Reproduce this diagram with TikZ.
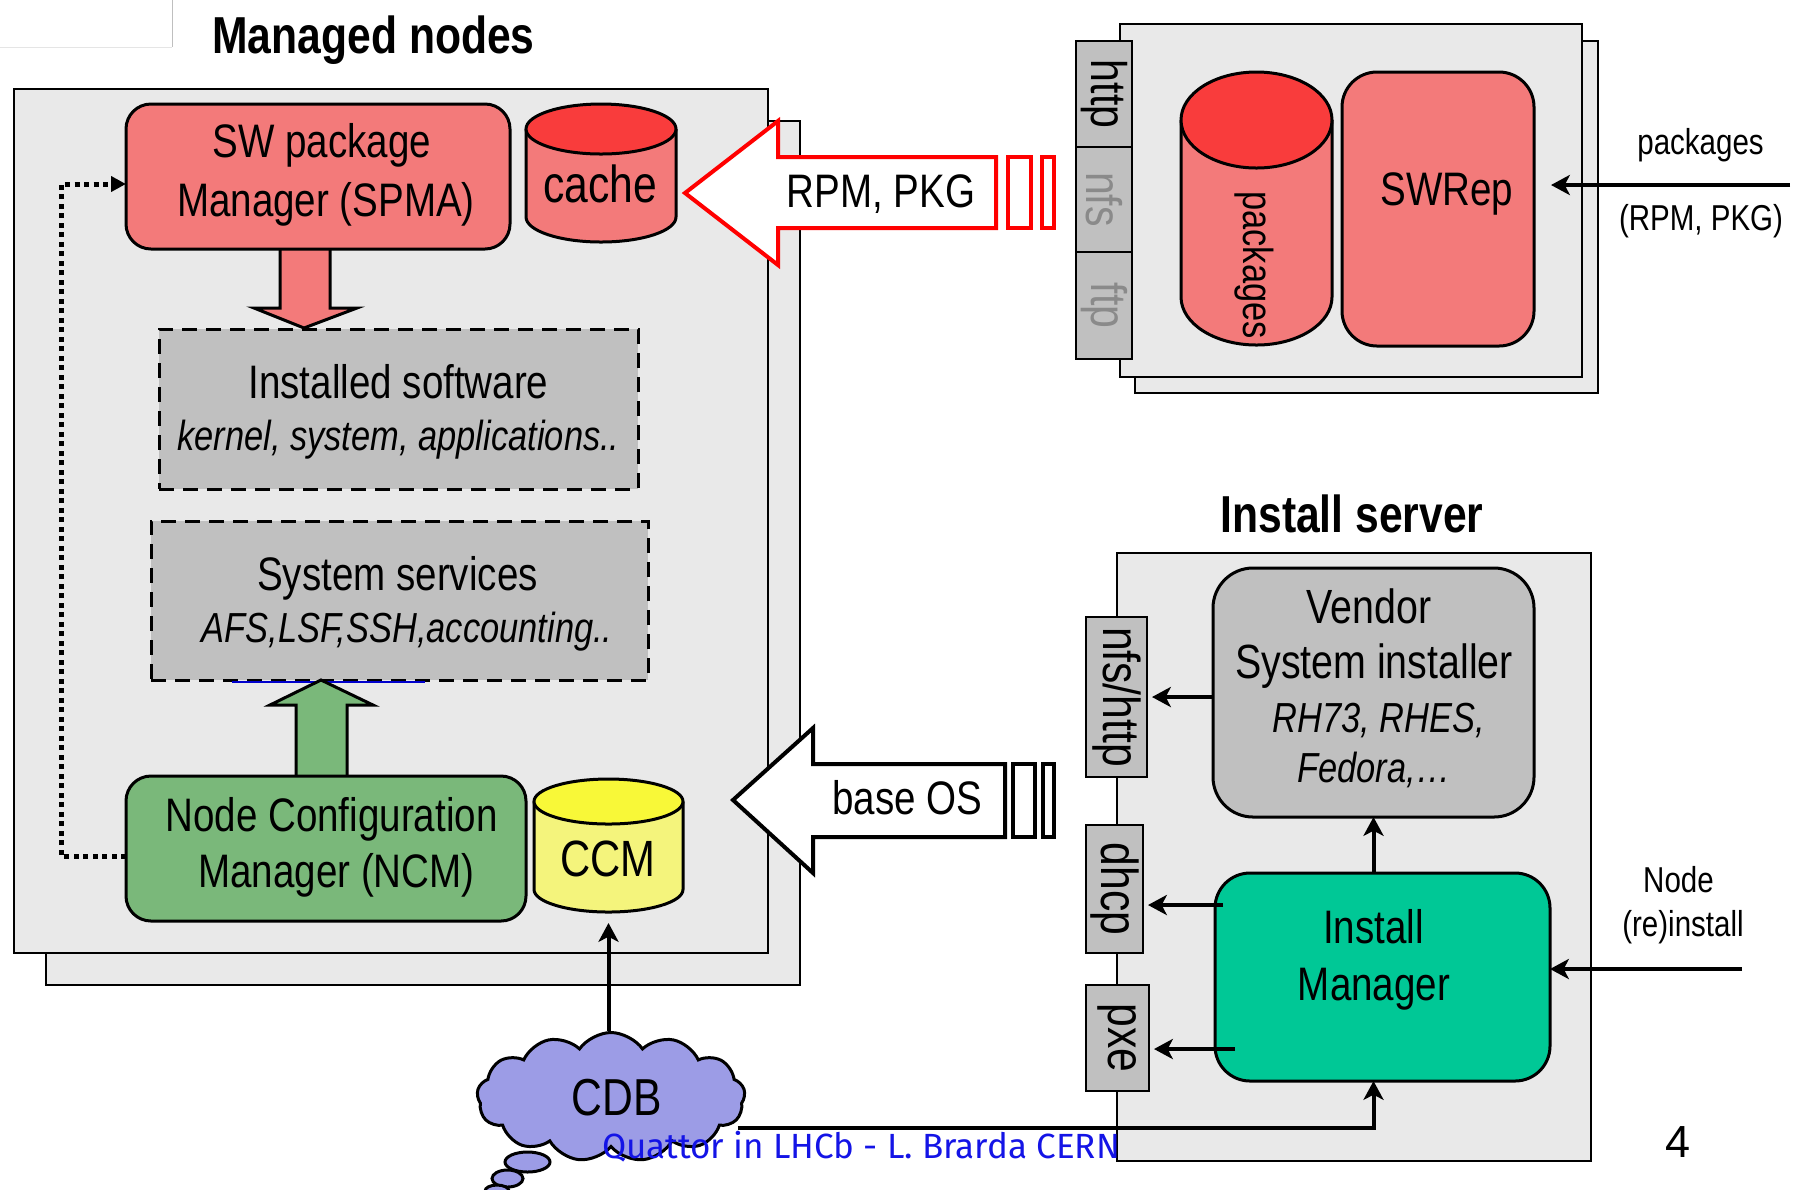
\documentclass[tikz,border=0pt]{standalone}
\usepackage{fontspec}
\usetikzlibrary{shapes.symbols,arrows.meta}
\newfontfamily\nar{Liberation Sans}[FakeStretch=0.82]
\newfontfamily\plainsans{Liberation Sans}
\newfontfamily\footfont{Fira Sans}
\newcommand\fsz[1]{\fontsize{\fpeval{#1*0.4}pt}{\fpeval{#1*0.48}pt}\selectfont}
\definecolor{panel}{HTML}{E9E9E9}
\definecolor{softgray}{HTML}{C0C0C0}
\definecolor{salmon}{HTML}{F37A7A}
\definecolor{redtop}{HTML}{F93C3C}
\definecolor{ncmgreen}{HTML}{7AB87A}
\definecolor{ytop}{HTML}{F8F838}
\definecolor{ybody}{HTML}{F4F47C}
\definecolor{cloudc}{HTML}{9C9CE6}
\definecolor{imgreen}{HTML}{00C896}
\definecolor{tabtext}{HTML}{8A8A8A}
\definecolor{footblue}{HTML}{1414E6}
\begin{document}
\begin{tikzpicture}[x=0.4pt,y=-0.4pt,
  wh/.style 2 args={minimum width=#1*0.4pt, minimum height=#2*0.4pt},
  panelbox/.style={draw, line width=0.7pt, fill=panel, inner sep=0, outer sep=0},
  rbox/.style={draw, line width=1.2pt, inner sep=0, outer sep=0},
  dbox/.style={draw, line width=1.2pt, dash pattern=on 6pt off 3.6pt, fill=softgray, inner sep=0, outer sep=0},
  tabbox/.style={draw, line width=0.8pt, fill=softgray, inner sep=0, outer sep=0, rotate=-90},
  lbl/.style={inner sep=0, outer sep=0, anchor=base},
  cyl/.style={draw, line width=1.2pt},
  arr/.style={line width=1.6pt, -{Stealth[length=7.5pt,width=8pt,inset=2pt]}},
  blockarrow/.style={draw, line width=1.2pt, line join=miter},
  outarrow/.style={draw, fill=white, line width=1.6pt, line join=miter},
]
\useasboundingbox (0,0) rectangle (1797,1189);
% top-left remnant
\draw[black!25, line width=0.4pt] (172,0) -- (172,47);
\draw[black!10, line width=0.4pt] (0,47) -- (172,47);

% ---------- Managed nodes ----------
\node[lbl, font=\nar\bfseries\fsz{52}] (tmn) at (373.5,53) {Managed nodes};
\node[panelbox, wh={754}{864}] (mback) at (423,553) {};
\node[panelbox, wh={754}{864}] (mfront) at (391,521) {};

% SPMA down arrow
\filldraw[blockarrow, fill=salmon] (280,249) -- (280,308) -- (254,308) -- (304,328) -- (357,308) -- (330,308) -- (330,249);
\node[rbox, fill=salmon, rounded corners=10pt, wh={384}{145}] (spma) at (318,176.5) {};
\node[lbl, font=\nar\fsz{47}] at (322,157) {SW package};
\node[lbl, font=\nar\fsz{47}] at (326,216) {Manager (SPMA)};

% cache cylinder
\filldraw[cyl, fill=salmon] (526,129) -- (526,217) arc[start angle=180,end angle=0,x radius=75,y radius=25] -- (676,129);
\filldraw[cyl, fill=redtop] (601,129) ellipse[x radius=75, y radius=25];
\node[inner sep=0, outer sep=0, wh={150}{138}] (cache) at (601,173) {};
\node[lbl, font=\nar\fsz{52}] at (600.5,202) {cache};

% installed software
\node[dbox, wh={479}{160}] (inst) at (398.5,409) {};
\node[lbl, font=\nar\fsz{47}] at (398.5,398) {Installed software};
\node[lbl, font=\nar\itshape\fsz{42}] at (398.5,450) {kernel, system, applications..};

% system services
\node[dbox, wh={497}{159}] (sys) at (399.5,600.5) {};
\draw[blue!80!black, line width=0.8pt] (232,682) -- (425,682);
\node[lbl, font=\nar\fsz{47}] at (397.5,590) {System services};
\node[lbl, font=\nar\itshape\fsz{42}] at (407,642) {AFS,LSF,SSH,accounting..};

% green up arrow
\filldraw[blockarrow, fill=ncmgreen] (296,776) -- (296,705) -- (270,705) -- (321,680) -- (373,705) -- (347,705) -- (347,776);
% NCM
\node[rbox, fill=ncmgreen, rounded corners=10pt, wh={400}{145}] (ncm) at (326,848.5) {};
\node[lbl, font=\nar\fsz{47}] at (331.5,831) {Node Configuration};
\node[lbl, font=\nar\fsz{47}] at (336.5,887) {Manager (NCM)};

% CCM cylinder
\filldraw[cyl, fill=ybody] (534,801.5) -- (534,889.5) arc[start angle=180,end angle=0,x radius=74.5,y radius=22.5] -- (683,801.5);
\filldraw[cyl, fill=ytop] (608.5,801.5) ellipse[x radius=74.5, y radius=22.5];
\node[inner sep=0, outer sep=0, wh={149}{133}] (ccm) at (608.5,845.5) {};
\node[lbl, font=\nar\fsz{51}] at (608,876) {CCM};

% dotted feedback
\draw[line width=2pt, dash pattern=on 2pt off 1.8pt, -{Triangle[length=6pt,width=6pt]}]
  ([shift={(0,7.5)}]ncm.west) -- ++(-65,0) |- ([shift={(0,7.5)}]spma.west);

% ---------- SW server ----------
\node[panelbox, wh={463}{352}] (sback) at (1366.5,217) {};
\node[panelbox, wh={462}{353}] (sfront) at (1351,200.5) {};
\node[tabbox, wh={106}{56}, font=\nar\fsz{50}] (thttp) at (1104,94) {http};
\node[tabbox, wh={105}{56}, font=\nar\fsz{50}, text=tabtext] (tnfs) at (1104,199.5) {nfs};
\node[tabbox, wh={107}{56}, font=\nar\fsz{50}, text=tabtext] (tftp) at (1104,305.5) {ftp};
% packages cylinder
\filldraw[cyl, fill=salmon] (1181,120) -- (1181,297) arc[start angle=180,end angle=0,x radius=75.5,y radius=48] -- (1332,120);
\filldraw[cyl, fill=redtop] (1256.5,120) ellipse[x radius=75.5, y radius=48];
\node[inner sep=0, outer sep=0, wh={151}{273}] (pkgs) at (1256.5,208.5) {};
\node[inner sep=0, rotate=-90, font=\nar\fsz{42}] at (1254,265) {packages};
% SWRep
\node[rbox, fill=salmon, rounded corners=14pt, wh={192}{274}] (swrep) at (1438,209) {};
\node[lbl, font=\nar\fsz{47}] at (1447,205) {SWRep};
\coordinate (pkgin) at (1790,185);
\draw[arr] (pkgin) -- ([shift={(17,0)}]swrep.east |- pkgin);
\node[lbl, font=\nar\fsz{36}] at (1700.5,154) {packages};
\node[lbl, font=\nar\fsz{36}] at (1701,230) {(RPM, PKG)};

% RPM arrow
\draw[outarrow, draw=red] (685,193) -- (778,121) -- (778,157) -- (996,157) -- (996,228) -- (778,228) -- (778,265) -- cycle;
\draw[outarrow, draw=red] (1008,157) rectangle (1031,228);
\draw[outarrow, draw=red] (1042,157) rectangle (1054,228);
\node[lbl, font=\nar\fsz{47}] at (881,207) {RPM, PKG};

% base OS arrow
\draw[outarrow] (733,800) -- (813,728) -- (813,764) -- (1005,764) -- (1005,837) -- (813,837) -- (813,873) -- cycle;
\draw[outarrow] (1013,764) rectangle (1035,837);
\draw[outarrow] (1043,764) rectangle (1054,837);
\node[lbl, font=\nar\fsz{47}] at (907.5,814) {base OS};

% ---------- Install server ----------
\node[lbl, font=\nar\bfseries\fsz{52}] (tis) at (1352,532) {Install server};
\node[panelbox, wh={474}{608}] (isbox) at (1354,857) {};
\node[tabbox, wh={160}{61}, font=\nar\fsz{52}] (tnh) at (1116.5,697) {nfs/http};
\node[tabbox, wh={128}{57}, font=\nar\fsz{52}] (tdhcp) at (1114.5,889) {dhcp};
\node[tabbox, wh={106}{63}, font=\nar\fsz{52}] (tpxe) at (1117.5,1038) {pxe};

\node[rbox, fill=softgray, rounded corners=16pt, wh={321}{249}] (vendor) at (1373.5,692.5) {};
\node[lbl, font=\nar\fsz{48}] at (1369,623) {Vendor};
\node[lbl, font=\nar\fsz{48}] at (1374,678.5) {System installer};
\node[lbl, font=\nar\itshape\fsz{42}] at (1378.5,732) {RH73, RHES,};
\node[lbl, font=\nar\itshape\fsz{42}] at (1374,782) {Fedora,…};

\node[rbox, fill=imgreen, rounded corners=14pt, wh={335}{208}] (im) at (1382.5,977) {};
\node[lbl, font=\nar\fsz{47}] at (1373.5,943.5) {Install};
\node[lbl, font=\nar\fsz{47}] at (1374,1000.7) {Manager};

\draw[arr] ([shift={(0,4.5)}]vendor.west) -- ([shift={(5,4.5)}]vendor.west -| tnh.north);
\draw[arr] ([shift={(8,-72)}]im.west) -- ([shift={(5,-72)}]im.west -| tdhcp.north);
\draw[arr] ([shift={(20,72)}]im.west) -- ([shift={(5,72)}]im.west -| tpxe.north);
\draw[arr] (vendor.south |- im.north) -- (vendor.south);

\coordinate (reinst) at (1742,969);
\draw[arr] (reinst) -- (im.east |- reinst);
\node[lbl, font=\nar\fsz{36}] at (1678.5,892) {Node};
\node[lbl, font=\nar\fsz{36}] at (1683,936.5) {(re)install};

% ---------- CDB ----------
\node[cloud, cloud puffs=13, cloud puff arc=110, aspect=2, draw, line width=1.2pt, fill=cloudc,
      minimum width=268*0.4pt, minimum height=129*0.4pt, inner sep=0] (cdb) at (611,1097) {};
\filldraw[line width=1.2pt, fill=cloudc] (527.5,1162) ellipse[x radius=22.5, y radius=10];
\filldraw[line width=1.2pt, fill=cloudc] (507.5,1178.5) ellipse[x radius=15.5, y radius=8.5];
\filldraw[line width=1.2pt, fill=cloudc] (497,1191) ellipse[x radius=12, y radius=6];
\node[lbl, font=\nar\fsz{52}] at (617,1115) {CDB};
\draw[arr] (cdb.north -| ccm.south) -- ([shift={(0,11)}]ccm.south);
\draw[arr] ([shift={(-8,31)}]cdb.east) -| (vendor.south |- im.south);

\node[lbl, anchor=base west, font=\footfont\fsz{35}, text=footblue] at (602,1158) {Quattor in LHCb - L. Brarda CERN};
\node[lbl, font=\plainsans\fsz{45}] at (1678,1157) {4};
\end{tikzpicture}
\end{document}
